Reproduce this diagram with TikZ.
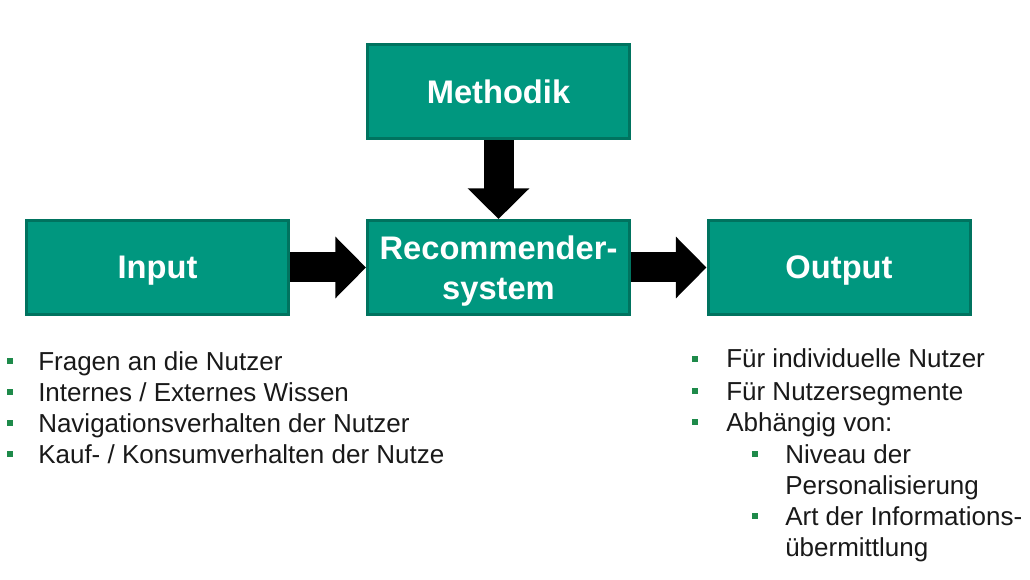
\documentclass[tikz,border=0pt]{standalone}
\usepackage{fontspec}
\setmainfont{Liberation Sans}
\usetikzlibrary{arrows.meta}
\definecolor{teal1}{HTML}{00977F}
\definecolor{teal2}{HTML}{00735F}
\definecolor{bul}{HTML}{1E8A4A}
\tikzset{
  box/.style={draw=teal2, fill=teal1, line width=2.25pt, minimum width=196.5pt, minimum height=70.5pt,
    text=white, font=\fontsize{24.5}{30}\selectfont\bfseries, align=center, inner sep=0pt, text depth=0pt},
  bigarrow/.style={line width=22.5pt, -{Triangle[length=23pt,width=45pt]}, black},
  item/.style={anchor=base west, inner sep=0pt, font=\fontsize{19.5}{23.25}\selectfont, text=black!90},
  bullet/.style={fill=bul, minimum size=4.8pt, inner sep=0pt}
}
\begin{document}
\begin{tikzpicture}[x=0.75pt,y=-0.75pt]
\useasboundingbox (0,0) rectangle (1030,580);
\node[box] (m) at (498.5,92) {Methodik};
\node[box] (in) at (157.5,267.5) {Input};
\node[box] (r) at (498.5,267.5) {Recommender-\\system};
\node[box] (out) at (839,267.5) {Output};
\draw[bigarrow] (m.south) -- (r.north);
\draw[bigarrow] (in.east) -- (r.west);
\draw[bigarrow] (r.east) -- (out.west);
% left list
\node[bullet] (b1) at (10,361) {};
\node[item] (t1) at (38,370) {Fragen an die Nutzer};
\node[bullet] (b2) at (10,392) {};
\node[item] (t2) at (38,401) {Internes / Externes Wissen};
\node[bullet] (b3) at (10,423) {};
\node[item] (t3) at (38,432) {Navigationsverhalten der Nutzer};
\node[bullet] (b4) at (10,454) {};
\node[item] (t4) at (38,463) {Kauf- / Konsumverhalten der Nutze};
% right list
\node[bullet] (c1) at (695,359) {};
\node[item] (u1) at (726,368) {Für individuelle Nutzer};
\node[bullet] (c2) at (695,391) {};
\node[item] (u2) at (726,400) {Für Nutzersegmente};
\node[bullet] (c3) at (695,422) {};
\node[item] (u3) at (726,431) {Abhängig von:};
\node[bullet] (d1) at (755,454) {};
\node[item] (v1) at (785,463) {Niveau der};
\node[item] (v2) at (785,494) {Personalisierung};
\node[bullet] (d2) at (755,516) {};
\node[item] (v3) at (785,525) {Art der Informations-};
\node[item] (v4) at (785,556) {übermittlung};
\end{tikzpicture}
\end{document}
